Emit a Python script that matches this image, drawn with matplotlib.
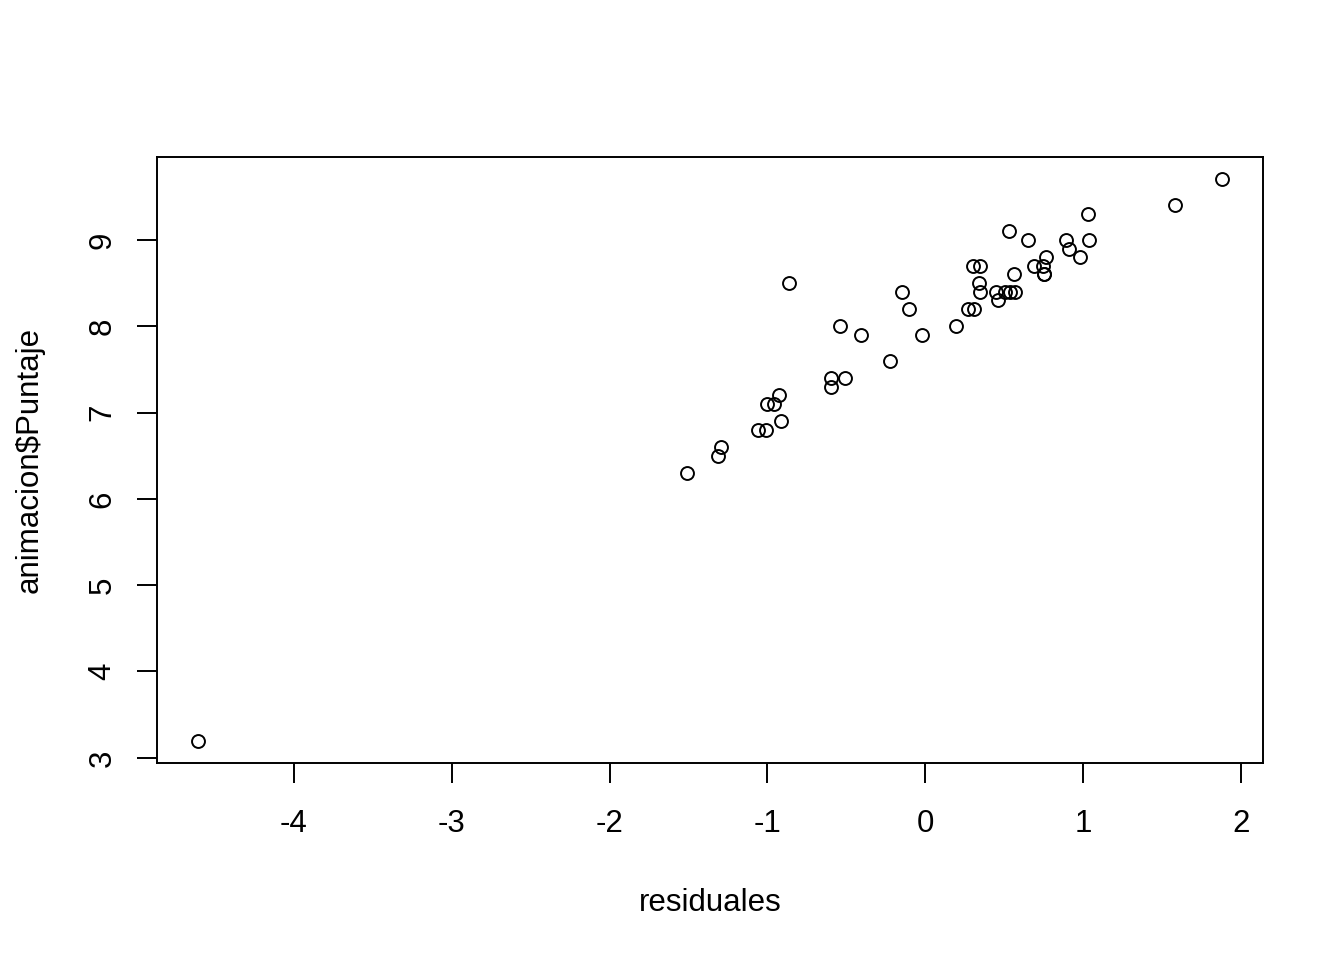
import matplotlib
matplotlib.use("Agg")
import matplotlib.pyplot as plt

plt.rcParams["font.family"] = ["Liberation Sans", "DejaVu Sans"]

residuales = [
    -4.607, -1.508, -1.312, -1.293, -1.058, -1.008, -0.913, -1.001, -0.957, -0.925,
    -0.596, -0.596, -0.507, -0.222, -0.539, -0.406, -0.862, -0.146, -0.101, -0.019,
    0.196, 0.270, 0.306, 0.302, 0.344, 0.342, 0.344, 0.450, 0.458, 0.507,
    0.539, 0.570, 0.560, 0.528, 0.648, 0.691, 0.746, 0.765, 0.750, 0.752,
    0.894, 0.913, 0.978, 1.029, 1.035, 1.584, 1.880,
]
puntaje = [
    3.2, 6.3, 6.5, 6.6, 6.8, 6.8, 6.9, 7.1, 7.1, 7.2,
    7.4, 7.3, 7.4, 7.6, 8.0, 7.9, 8.5, 8.4, 8.2, 7.9,
    8.0, 8.2, 8.2, 8.7, 8.7, 8.5, 8.4, 8.4, 8.3, 8.4,
    8.4, 8.4, 8.6, 9.1, 9.0, 8.7, 8.7, 8.8, 8.6, 8.6,
    9.0, 8.9, 8.8, 9.3, 9.0, 9.4, 9.7,
]
xticks = [-4, -3, -2, -1, 0, 1, 2]
yticks = [3, 4, 5, 6, 7, 8, 9]

fs = 22.5

fig = plt.figure(figsize=(13.44, 9.6), dpi=100)
ax = fig.add_axes([157 / 1344, 1 - 763 / 960, (1263 - 157) / 1344, (763 - 157) / 960])

ax.plot(residuales, puntaje, linestyle="none", marker="o", markersize=9.3,
        markerfacecolor="none", markeredgecolor="black", markeredgewidth=1.4)

xr = max(residuales) - min(residuales)
yr = max(puntaje) - min(puntaje)
ax.set_xlim(min(residuales) - 0.04 * xr, max(residuales) + 0.04 * xr)
ax.set_ylim(min(puntaje) - 0.04 * yr, max(puntaje) + 0.04 * yr)

ax.set_xticks(xticks)
ax.set_yticks(yticks)
ax.set_xticklabels([str(t) for t in xticks])
ax.set_yticklabels([str(t) for t in yticks])
ax.tick_params(axis="both", direction="out", length=14.4, width=1.4, labelsize=fs, color="black")
ax.tick_params(axis="x", pad=19)
ax.tick_params(axis="y", pad=14, labelrotation=90)
for lab in ax.get_yticklabels():
    lab.set_verticalalignment("center")

for sp in ax.spines.values():
    sp.set_linewidth(1.4)

ax.set_xlabel("residuales", fontsize=fs, labelpad=35)
ax.set_ylabel("animacion$Puntaje", fontsize=fs, labelpad=31)

fig.savefig("out.png", dpi=100)
